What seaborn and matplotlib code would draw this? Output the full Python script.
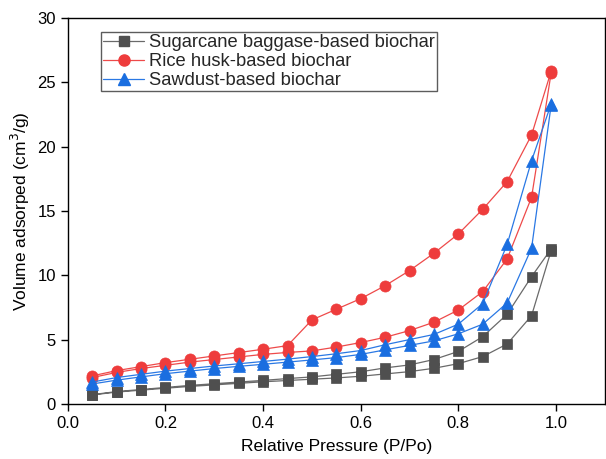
import numpy as np
import pandas as pd
import matplotlib
matplotlib.use("Agg")
import matplotlib.pyplot as plt
import seaborn as sns

# Relative pressure points (adsorption order; desorption uses the reverse)
p_rel = [0.05, 0.10, 0.15, 0.20, 0.25, 0.30, 0.35, 0.40, 0.45, 0.50,
         0.55, 0.60, 0.65, 0.70, 0.75, 0.80, 0.85, 0.90, 0.95, 0.99]

sugar_ads = [0.70, 0.92, 1.07, 1.22, 1.36, 1.48, 1.60, 1.72, 1.82, 1.92,
             2.02, 2.15, 2.33, 2.51, 2.77, 3.13, 3.68, 4.66, 6.86, 11.90]
sugar_des = [0.72, 0.96, 1.12, 1.28, 1.44, 1.57, 1.70, 1.83, 1.97, 2.10,
             2.30, 2.50, 2.80, 3.03, 3.45, 4.08, 5.23, 6.97, 9.89, 12.04]

rice_ads = [2.05, 2.45, 2.75, 3.00, 3.25, 3.45, 3.65, 3.85, 4.00, 4.12,
            4.42, 4.77, 5.18, 5.70, 6.35, 7.30, 8.73, 11.27, 16.06, 25.70]
rice_des = [2.18, 2.59, 2.90, 3.21, 3.47, 3.73, 3.99, 4.25, 4.53, 6.53,
            7.36, 8.18, 9.19, 10.36, 11.71, 13.21, 15.13, 17.28, 20.90, 25.85]

saw_ads = [1.55, 1.85, 2.10, 2.35, 2.55, 2.75, 2.92, 3.08, 3.25, 3.42,
           3.60, 3.85, 4.20, 4.55, 4.90, 5.45, 6.20, 7.85, 12.10, 23.20]
saw_des = [1.70, 2.05, 2.30, 2.55, 2.75, 2.95, 3.12, 3.30, 3.48, 3.68,
           3.90, 4.15, 4.60, 5.00, 5.40, 6.20, 7.80, 12.40, 18.90, 23.30]

labels = ["Sugarcane baggase-based biochar", "Rice husk-based biochar", "Sawdust-based biochar"]

sns.set_theme(style="white")
plt.rcParams['font.family'] = ['Liberation Sans', 'DejaVu Sans']

fig = plt.figure(figsize=(6.06, 4.59), dpi=100)
ax = fig.add_axes([0.112, 0.120, 0.886, 0.841])

series = [
    (labels[0], sugar_ads, sugar_des, "s", "#4f4f4f", "#6a6a6a", 7.5),
    (labels[1], rice_ads, rice_des, "o", "#ee3c3c", "#ee4a4a", 8),
    (labels[2], saw_ads, saw_des, "^", "#1a6ee0", "#2a78e4", 8.5),
]

handles = []
for name, ads, des, mk, mcol, lcol, ms in series:
    df = pd.DataFrame({
        "P": list(p_rel) + list(p_rel[::-1]),
        "V": list(ads) + list(des[::-1]),
    })
    sns.lineplot(data=df, x="P", y="V", sort=False, estimator=None, ax=ax,
                 color=lcol, linewidth=0.9, marker=mk, markersize=ms,
                 markerfacecolor=mcol, markeredgecolor=mcol, markeredgewidth=0.5)
    h, = ax.plot([], [], color=lcol, linewidth=0.9, marker=mk, markersize=ms,
                 markerfacecolor=mcol, markeredgecolor=mcol, label=name)
    handles.append(h)

ax.set_xlim(0, 1.1)
ax.set_ylim(0, 30)
ax.set_xticks([0.0, 0.2, 0.4, 0.6, 0.8, 1.0])
ax.set_yticks([0, 5, 10, 15, 20, 25, 30])
ax.xaxis.set_major_formatter(matplotlib.ticker.FormatStrFormatter('%.1f'))

for s in ax.spines.values():
    s.set_color("black")
    s.set_linewidth(1.0)
ax.tick_params(axis="both", direction="out", length=5, width=1.0, colors="black",
               labelsize=12, bottom=True, left=True, top=False, right=False)

ax.set_xlabel("Relative Pressure (P/Po)", fontsize=12.5, color="black", labelpad=6)
ax.set_ylabel("Volume adsorped (cm$^3$/g)", fontsize=12.5, color="black", labelpad=4)

leg = ax.legend(handles=handles, loc="upper left", bbox_to_anchor=(0.062, 0.963),
                fontsize=13.2, frameon=True, fancybox=False, handlelength=2.2,
                borderpad=0.12, labelspacing=0.1, handletextpad=0.3, borderaxespad=0)
leg.get_frame().set_edgecolor("#333333")
leg.get_frame().set_linewidth(1.0)

fig.savefig("out.png", dpi=100)
